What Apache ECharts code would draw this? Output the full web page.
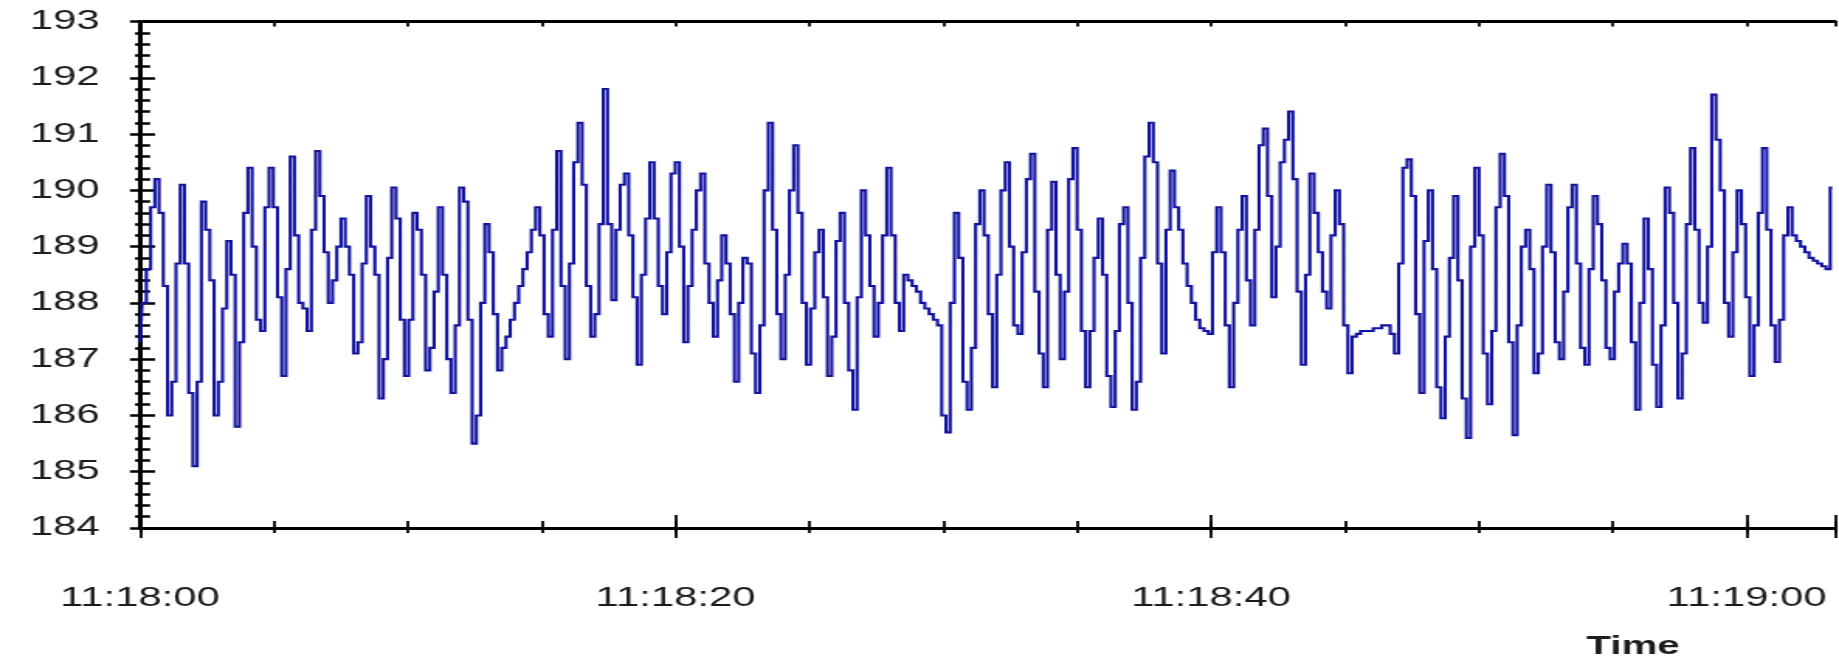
<!DOCTYPE html>
<html>
<head>
<meta charset="utf-8">
<title>Signal 11:18 – 11:19</title>
<script src="https://cdn.jsdelivr.net/npm/echarts@6/dist/echarts.min.js"></script>
<style>
  html, body { margin: 0; padding: 0; background: #fff; overflow: hidden; width: 1839px; height: 660px; }
  /* the plot is laid out on a narrower canvas and stretched horizontally to the page width */
  #chart { width: 1186px; height: 660px; transform: scaleX(1.55059); transform-origin: 0 0; }
</style>
</head>
<body>
<div id="chart"></div>
<script>
// Sampled values, one every SAMPLE_PERIOD seconds starting at 11:18:00
const signal = [
  187.3, 188.0, 188.6, 189.7, 190.2, 189.6, 188.3, 186.0, 186.6, 188.7,
  190.1, 188.7, 186.4, 185.1, 186.6, 189.8, 189.3, 188.4, 186.0, 186.6,
  187.9, 189.1, 188.5, 185.8, 187.3, 189.6, 190.4, 189.0, 187.7, 187.5,
  189.7, 190.4, 189.7, 188.1, 186.7, 188.6, 190.6, 189.2, 188.0, 187.9,
  187.5, 189.3, 190.7, 189.9, 188.9, 188.0, 188.4, 189.0, 189.5, 189.0,
  188.5, 187.1, 187.3, 188.7, 189.9, 189.0, 188.5, 186.3, 187.0, 188.8,
  190.05, 189.5, 187.7, 186.7, 187.7, 189.6, 189.3, 188.5, 186.8, 187.2,
  188.2, 189.7, 188.5, 187.0, 186.4, 187.6, 190.05, 189.8, 187.7, 185.5,
  186.0, 188.0, 189.4, 188.9, 187.8, 186.8, 187.2, 187.4, 187.7, 188.0,
  188.3, 188.6, 188.9, 189.3, 189.7, 189.2, 187.8, 187.4, 189.3, 190.7,
  188.3, 187.0, 188.7, 190.5, 191.2, 190.1, 188.3, 187.4, 187.8, 189.4,
  191.8, 189.4, 188.05, 189.3, 190.1, 190.3, 189.2, 188.1, 186.9, 188.5,
  189.5, 190.5, 189.5, 188.3, 187.8, 188.9, 190.3, 190.5, 189.0, 187.3,
  188.3, 189.3, 190.0, 190.3, 188.7, 188.0, 187.4, 188.4, 189.2, 188.7,
  187.8, 186.6, 188.0, 188.8, 188.7, 187.1, 186.4, 187.6, 190.0, 191.2,
  189.3, 187.8, 187.0, 188.5, 190.0, 190.8, 189.6, 188.0, 186.9, 187.9,
  188.9, 189.3, 188.1, 186.7, 187.4, 189.1, 189.6, 188.0, 186.8, 186.1,
  188.1, 190.0, 189.2, 188.3, 187.4, 188.0, 189.2, 190.4, 189.2, 188.0,
  187.5, 188.5, 188.4, 188.3, 188.2, 188.0, 187.9, 187.8, 187.7, 187.6,
  186.0, 185.7, 188.0, 189.6, 188.8, 186.6, 186.1, 187.2, 189.4, 190.0,
  189.2, 187.8, 186.5, 188.5, 190.0, 190.5, 189.0, 187.6, 187.45, 188.9,
  190.2, 190.65, 188.2, 187.1, 186.5, 189.3, 190.15, 188.5, 187.0, 188.2,
  190.2, 190.75, 189.3, 187.5, 186.5, 187.5, 188.8, 189.5, 188.5, 186.7,
  186.15, 187.5, 189.4, 189.7, 188.0, 186.1, 186.6, 188.8, 190.6, 191.2,
  190.5, 188.7, 187.1, 189.3, 190.35, 189.7, 189.3, 188.7, 188.3, 188.0,
  187.7, 187.55, 187.5, 187.45, 188.9, 189.7, 188.9, 187.6, 186.5, 188.0,
  189.3, 189.9, 188.4, 187.6, 189.3, 190.8, 191.1, 189.9, 188.1, 189.0,
  190.5, 190.9, 191.4, 190.2, 188.2, 186.9, 188.5, 190.3, 189.6, 188.9,
  188.2, 187.9, 189.2, 190.0, 189.4, 187.6, 186.75, 187.4, 187.45, 187.5,
  187.5, 187.5, 187.55, 187.55, 187.6, 187.6, 187.45, 187.1, 188.7, 190.4,
  190.55, 189.9, 187.8, 186.4, 189.1, 190.0, 188.6, 186.5, 185.95, 187.4,
  188.8, 189.9, 188.4, 186.3, 185.6, 189.0, 190.4, 189.2, 187.1, 186.2,
  187.5, 189.7, 190.65, 189.9, 187.3, 185.65, 187.6, 189.0, 189.3, 188.6,
  186.75, 187.1, 189.0, 190.1, 188.9, 187.3, 187.0, 188.2, 189.7, 190.1,
  188.7, 187.2, 186.9, 188.6, 189.9, 189.4, 188.4, 187.2, 187.0, 188.2,
  188.7, 189.05, 188.7, 187.3, 186.1, 188.0, 189.5, 188.6, 186.9, 186.15,
  187.6, 190.05, 189.6, 188.0, 186.3, 187.1, 189.4, 190.75, 189.3, 188.0,
  187.65, 189.0, 191.7, 190.9, 190.0, 188.0, 187.4, 188.9, 190.0, 189.4,
  188.1, 186.7, 187.6, 189.6, 190.75, 189.3, 187.6, 186.95, 187.7, 189.2,
  189.7, 189.2, 189.1, 189.0, 188.9, 188.8, 188.75, 188.7, 188.65, 188.6,
  190.05
];

const SAMPLE_PERIOD = 0.158;      // seconds between samples
const WINDOW_SECONDS = 63.3;      // visible span of the time axis
const LABEL_STEP = 20;            // seconds between labelled ticks
const MINOR_STEP = 5;             // seconds between small ticks
const timeLabels = ['11:18:00', '11:18:20', '11:18:40', '11:19:00'];
const valueRange = [184, 193];
const axisName = 'Time';

const FONT = "'Liberation Sans', Arial, sans-serif";
const TEXT_COLOR = '#1c1c1c';
const INK = '#000';
const LINE_COLOR = '#1212a0';

const points = signal.map((v, i) => [i * SAMPLE_PERIOD, v]);

function timeLabel(v) {
  const k = v / LABEL_STEP;
  if (Math.abs(k - Math.round(k)) > 1e-6) return '';
  return timeLabels[Math.round(k)] || '';
}

// one x-axis per tick style: ticks cross the frame line, longer at labelled positions
function xTicks(interval, inside, length, extra) {
  return Object.assign({
    type: 'value', min: 0, max: WINDOW_SECONDS, interval: interval, position: 'bottom',
    splitLine: { show: false },
    axisLine: { show: false, onZero: false },
    axisTick: { show: true, inside: inside, length: length, lineStyle: { color: INK, width: 1.8 } },
    axisLabel: { show: false }
  }, extra || {});
}

function yTicks(inside, majorLen, minorLen, extra) {
  return Object.assign({
    type: 'value', min: valueRange[0], max: valueRange[1], interval: 1, position: 'left',
    splitLine: { show: false },
    minorSplitLine: { show: false },
    axisLine: { show: false, onZero: false },
    axisTick: { show: true, inside: inside, length: majorLen, lineStyle: { color: INK, width: 2.5 } },
    minorTick: { show: true, splitNumber: 5, length: minorLen, lineStyle: { color: INK, width: 2.5 } },
    axisLabel: { show: false }
  }, extra || {});
}

const chart = echarts.init(document.getElementById('chart'), null, { renderer: 'canvas' });

chart.setOption({
  animation: false,
  backgroundColor: '#fff',
  title: {
    text: axisName,
    left: 1023,
    top: 634,
    padding: 0,
    textStyle: { fontFamily: FONT, fontSize: 26, fontWeight: 'bold', color: TEXT_COLOR }
  },
  grid: { left: 90.3, right: 2.6, top: 21.5, bottom: 132, containLabel: false, outerBoundsMode: 'none' },
  xAxis: [
    xTicks(MINOR_STEP, true, 7, {
      axisLine: { show: true, onZero: false, lineStyle: { color: INK, width: 3 } },
      axisLabel: {
        show: true, margin: 57, formatter: timeLabel,
        fontFamily: FONT, fontSize: 27, color: TEXT_COLOR
      }
    }),
    xTicks(MINOR_STEP, false, 5),
    xTicks(LABEL_STEP, true, 13),
    xTicks(LABEL_STEP, false, 10),
    xTicks(MINOR_STEP, true, 5, {
      position: 'top',
      axisLine: { show: true, onZero: false, lineStyle: { color: INK, width: 3 } }
    })
  ],
  yAxis: [
    yTicks(false, 6.5, 3.2, {
      axisLine: { show: true, onZero: false, lineStyle: { color: INK, width: 3 } },
      axisLabel: { show: true, margin: 26, fontFamily: FONT, fontSize: 27, color: TEXT_COLOR }
    }),
    yTicks(true, 9.7, 6.5)
  ],
  series: [{
    type: 'line',
    xAxisIndex: 0,
    yAxisIndex: 0,
    data: points,
    step: 'middle',
    symbol: 'none',
    showSymbol: false,
    clip: true,
    lineStyle: { color: LINE_COLOR, width: 2.1, join: 'miter' }
  }]
});
</script>
</body>
</html>
